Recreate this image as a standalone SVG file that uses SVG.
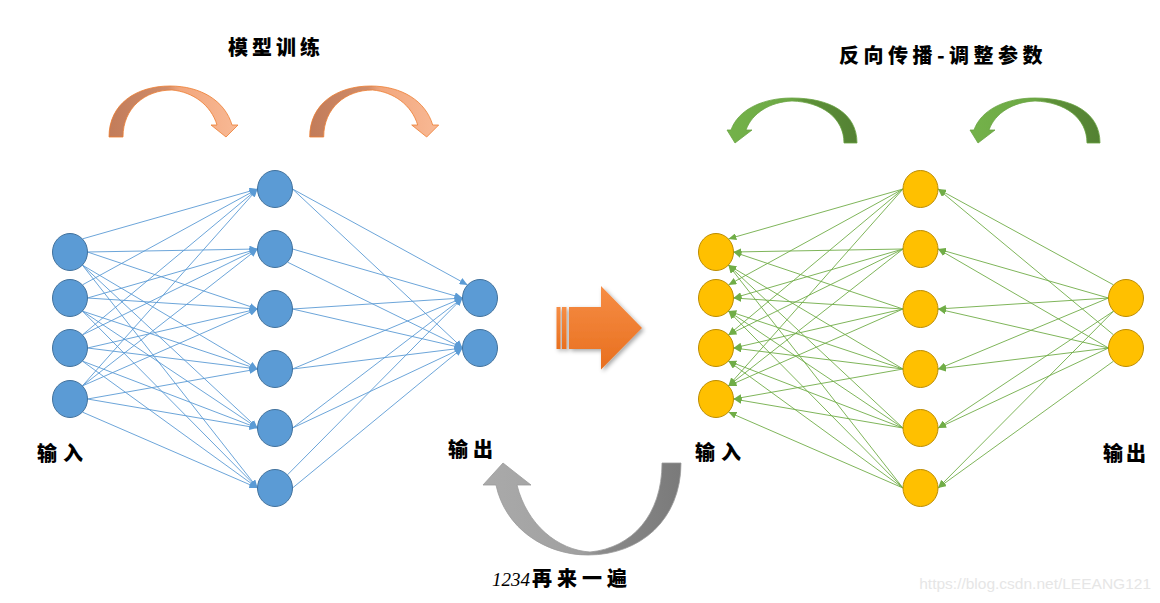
<svg xmlns="http://www.w3.org/2000/svg" xmlns:xlink="http://www.w3.org/1999/xlink" width="1160" height="603" viewBox="0 0 1160 603">
<style>
.lbl{font-family:"Noto Sans CJK SC","Noto Sans",sans-serif;font-weight:900;fill:#000;font-size:20px}
.bn{fill:#5B9BD5;stroke:#41719C;stroke-width:1}
.yn{fill:#FFC000;stroke:#BC8C00;stroke-width:1}
.be{stroke:#5B9BD5;stroke-width:0.9;fill:none;marker-end:url(#ab)}
.ge{stroke:#70AD47;stroke-width:0.9;fill:none;marker-end:url(#ag)}
.wm{font-family:"Liberation Sans",Arial,sans-serif;font-size:15.5px;fill:#E6E6E6}
</style>
<defs>
<marker id="ab" markerUnits="userSpaceOnUse" markerWidth="9" markerHeight="7" refX="8" refY="3.5" orient="auto"><path d="M0,0 L8,3.5 L0,7 z" fill="#5B9BD5"/></marker>
<marker id="ag" markerUnits="userSpaceOnUse" markerWidth="9" markerHeight="7" refX="8" refY="3.5" orient="auto"><path d="M0,0 L8,3.5 L0,7 z" fill="#70AD47"/></marker>
<linearGradient id="gOr" x1="0" y1="0" x2="1" y2="0">
<stop offset="0" stop-color="#C27C5A"/><stop offset="0.45" stop-color="#D08C69"/><stop offset="0.55" stop-color="#F2A67C"/><stop offset="1" stop-color="#F8B995"/>
</linearGradient>
<linearGradient id="gGr" x1="0" y1="0" x2="1" y2="0">
<stop offset="0" stop-color="#74B24A"/><stop offset="0.5" stop-color="#6CA844"/><stop offset="0.6" stop-color="#5E9139"/><stop offset="1" stop-color="#538133"/>
</linearGradient>
<linearGradient id="gGy" x1="0" y1="0" x2="1" y2="0">
<stop offset="0" stop-color="#AAAAAA"/><stop offset="0.5" stop-color="#A0A0A0"/><stop offset="0.6" stop-color="#8A8A8A"/><stop offset="1" stop-color="#7A7A7A"/>
</linearGradient>
<linearGradient id="gC" x1="0" y1="0" x2="0" y2="1">
<stop offset="0" stop-color="#F68D45"/><stop offset="1" stop-color="#E86F1E"/>
</linearGradient>
<filter id="sh" x="-20%" y="-20%" width="150%" height="150%"><feDropShadow dx="2" dy="2" stdDeviation="2" flood-color="#000" flood-opacity="0.35"/></filter>
<path id="orArrow" d="M109,137 C109,104 136,86 170,86 C201,86 225,101 232,125 L238,125 L226,137 L211,125 L217,125 C211,105 193,92 172,90 C145,90 123,108 123,137 Z" fill="url(#gOr)" stroke="#ED7D31" stroke-width="0.8"/>
<path id="grArrow" d="M857,143 C857,113 830,98 792,98 C762,98 738,110 731,130 L727,130 L735,143 L752,130 L746,130 C752,113 770,102 792,101 C822,102 844,118 844,143 Z" fill="url(#gGr)" stroke="#6AA342" stroke-width="0.8"/>
</defs>
<rect width="1160" height="603" fill="#fff"/>

<g id="titles">
<text class="lbl" x="276" y="55" text-anchor="middle" letter-spacing="4">模型训练</text>
<text class="lbl" x="943" y="62.5" text-anchor="middle" letter-spacing="4.5">反向传播-调整参数</text>
</g>

<g id="curved-arrows">
<use xlink:href="#orArrow"/>
<use xlink:href="#orArrow" transform="translate(200.7,0)"/>
<use xlink:href="#grArrow"/>
<use xlink:href="#grArrow" transform="translate(243,0)"/>
<path id="grayArrow" d="M681,463 C681,520 640,555 588,555 C545,555 505,528 496,485 L483,485 L503,463 L531,485 L517,485 C527,525 558,550 590,552 C632,548 662,515 662,463 Z" fill="url(#gGy)" stroke="#9A9A9A" stroke-width="0.8"/>
</g>

<g id="center-arrow" filter="url(#sh)">
<rect x="556.5" y="307" width="4" height="42" fill="url(#gC)"/>
<rect x="562" y="307" width="4.5" height="42" fill="url(#gC)"/>
<polygon points="569,307 601,307 601,286 642,328 601,369.5 601,349 569,349" fill="url(#gC)"/>
</g>

<g id="connectors">
<line class="be" x1="82.4" y1="238.9" x2="257.5" y2="189"/>
<line class="be" x1="87.5" y1="252" x2="257.5" y2="249"/>
<line class="be" x1="87.5" y1="252" x2="257.5" y2="309"/>
<line class="be" x1="82.4" y1="265.1" x2="257.5" y2="369"/>
<line class="be" x1="82.4" y1="265.1" x2="257.5" y2="428"/>
<line class="be" x1="82.4" y1="265.1" x2="257.5" y2="488"/>
<line class="be" x1="82.4" y1="284.9" x2="257.5" y2="189"/>
<line class="be" x1="87.5" y1="298" x2="257.5" y2="249"/>
<line class="be" x1="87.5" y1="298" x2="257.5" y2="309"/>
<line class="be" x1="82.4" y1="311.1" x2="257.5" y2="369"/>
<line class="be" x1="82.4" y1="311.1" x2="257.5" y2="428"/>
<line class="be" x1="82.4" y1="311.1" x2="257.5" y2="488"/>
<line class="be" x1="82.4" y1="334.9" x2="257.5" y2="189"/>
<line class="be" x1="82.4" y1="334.9" x2="257.5" y2="249"/>
<line class="be" x1="87.5" y1="348" x2="257.5" y2="309"/>
<line class="be" x1="87.5" y1="348" x2="257.5" y2="369"/>
<line class="be" x1="82.4" y1="361.1" x2="257.5" y2="428"/>
<line class="be" x1="82.4" y1="361.1" x2="257.5" y2="488"/>
<line class="be" x1="82.4" y1="385.9" x2="257.5" y2="189"/>
<line class="be" x1="82.4" y1="385.9" x2="257.5" y2="249"/>
<line class="be" x1="82.4" y1="385.9" x2="257.5" y2="309"/>
<line class="be" x1="87.5" y1="399" x2="257.5" y2="369"/>
<line class="be" x1="87.5" y1="399" x2="257.5" y2="428"/>
<line class="be" x1="82.4" y1="412.1" x2="257.5" y2="488"/>
<line class="be" x1="292.5" y1="189" x2="467.6" y2="284.9"/>
<line class="be" x1="292.5" y1="189" x2="462.5" y2="348"/>
<line class="be" x1="292.5" y1="249" x2="462.5" y2="298"/>
<line class="be" x1="287.4" y1="262.1" x2="462.5" y2="348"/>
<line class="be" x1="292.5" y1="309" x2="462.5" y2="298"/>
<line class="be" x1="292.5" y1="309" x2="462.5" y2="348"/>
<line class="be" x1="292.5" y1="369" x2="462.5" y2="298"/>
<line class="be" x1="292.5" y1="369" x2="462.5" y2="348"/>
<line class="be" x1="292.5" y1="428" x2="462.5" y2="298"/>
<line class="be" x1="292.5" y1="428" x2="462.5" y2="348"/>
<line class="be" x1="287.4" y1="474.9" x2="462.5" y2="298"/>
<line class="be" x1="292.5" y1="488" x2="462.5" y2="348"/>
<line class="ge" x1="903" y1="189" x2="728.4" y2="238.9"/>
<line class="ge" x1="903" y1="249" x2="733.5" y2="252"/>
<line class="ge" x1="903" y1="309" x2="733.5" y2="252"/>
<line class="ge" x1="903" y1="369" x2="728.4" y2="265.1"/>
<line class="ge" x1="903" y1="428" x2="728.4" y2="265.1"/>
<line class="ge" x1="903" y1="488" x2="728.4" y2="265.1"/>
<line class="ge" x1="903" y1="189" x2="728.4" y2="284.9"/>
<line class="ge" x1="903" y1="249" x2="733.5" y2="298"/>
<line class="ge" x1="903" y1="309" x2="733.5" y2="298"/>
<line class="ge" x1="903" y1="369" x2="728.4" y2="311.1"/>
<line class="ge" x1="903" y1="428" x2="728.4" y2="311.1"/>
<line class="ge" x1="903" y1="488" x2="728.4" y2="311.1"/>
<line class="ge" x1="903" y1="189" x2="728.4" y2="334.9"/>
<line class="ge" x1="903" y1="249" x2="728.4" y2="334.9"/>
<line class="ge" x1="903" y1="309" x2="733.5" y2="348"/>
<line class="ge" x1="903" y1="369" x2="733.5" y2="348"/>
<line class="ge" x1="903" y1="428" x2="728.4" y2="361.1"/>
<line class="ge" x1="903" y1="488" x2="728.4" y2="361.1"/>
<line class="ge" x1="903" y1="189" x2="728.4" y2="385.9"/>
<line class="ge" x1="903" y1="249" x2="728.4" y2="385.9"/>
<line class="ge" x1="903" y1="309" x2="728.4" y2="385.9"/>
<line class="ge" x1="903" y1="369" x2="733.5" y2="399"/>
<line class="ge" x1="903" y1="428" x2="733.5" y2="399"/>
<line class="ge" x1="903" y1="488" x2="728.4" y2="412.1"/>
<line class="ge" x1="1113.6" y1="284.9" x2="938" y2="189"/>
<line class="ge" x1="1108.5" y1="298" x2="938" y2="249"/>
<line class="ge" x1="1108.5" y1="298" x2="938" y2="309"/>
<line class="ge" x1="1108.5" y1="298" x2="938" y2="369"/>
<line class="ge" x1="1113.6" y1="311.1" x2="938" y2="428"/>
<line class="ge" x1="1113.6" y1="311.1" x2="938" y2="488"/>
<line class="ge" x1="1113.6" y1="334.9" x2="938" y2="189"/>
<line class="ge" x1="1108.5" y1="348" x2="938" y2="249"/>
<line class="ge" x1="1108.5" y1="348" x2="938" y2="309"/>
<line class="ge" x1="1108.5" y1="348" x2="938" y2="369"/>
<line class="ge" x1="1108.5" y1="348" x2="938" y2="428"/>
<line class="ge" x1="1113.6" y1="361.1" x2="938" y2="488"/>
</g>

<g id="left-input-1"><ellipse class="bn" cx="70" cy="252" rx="17.5" ry="18.5"/></g>
<g id="left-input-2"><ellipse class="bn" cx="70" cy="298" rx="17.5" ry="18.5"/></g>
<g id="left-input-3"><ellipse class="bn" cx="70" cy="348" rx="17.5" ry="18.5"/></g>
<g id="left-input-4"><ellipse class="bn" cx="70" cy="399" rx="17.5" ry="18.5"/></g>
<g id="left-hidden-1"><ellipse class="bn" cx="275" cy="189" rx="17.5" ry="18.5"/></g>
<g id="left-hidden-2"><ellipse class="bn" cx="275" cy="249" rx="17.5" ry="18.5"/></g>
<g id="left-hidden-3"><ellipse class="bn" cx="275" cy="309" rx="17.5" ry="18.5"/></g>
<g id="left-hidden-4"><ellipse class="bn" cx="275" cy="369" rx="17.5" ry="18.5"/></g>
<g id="left-hidden-5"><ellipse class="bn" cx="275" cy="428" rx="17.5" ry="18.5"/></g>
<g id="left-hidden-6"><ellipse class="bn" cx="275" cy="488" rx="17.5" ry="18.5"/></g>
<g id="left-output-1"><ellipse class="bn" cx="480" cy="298" rx="17.5" ry="18.5"/></g>
<g id="left-output-2"><ellipse class="bn" cx="480" cy="348" rx="17.5" ry="18.5"/></g>

<g id="right-input-1"><ellipse class="yn" cx="716" cy="252" rx="17.5" ry="18.5"/></g>
<g id="right-input-2"><ellipse class="yn" cx="716" cy="298" rx="17.5" ry="18.5"/></g>
<g id="right-input-3"><ellipse class="yn" cx="716" cy="348" rx="17.5" ry="18.5"/></g>
<g id="right-input-4"><ellipse class="yn" cx="716" cy="399" rx="17.5" ry="18.5"/></g>
<g id="right-hidden-1"><ellipse class="yn" cx="920.5" cy="189" rx="17.5" ry="18.5"/></g>
<g id="right-hidden-2"><ellipse class="yn" cx="920.5" cy="249" rx="17.5" ry="18.5"/></g>
<g id="right-hidden-3"><ellipse class="yn" cx="920.5" cy="309" rx="17.5" ry="18.5"/></g>
<g id="right-hidden-4"><ellipse class="yn" cx="920.5" cy="369" rx="17.5" ry="18.5"/></g>
<g id="right-hidden-5"><ellipse class="yn" cx="920.5" cy="428" rx="17.5" ry="18.5"/></g>
<g id="right-hidden-6"><ellipse class="yn" cx="920.5" cy="488" rx="17.5" ry="18.5"/></g>
<g id="right-output-1"><ellipse class="yn" cx="1126" cy="298" rx="17.5" ry="18.5"/></g>
<g id="right-output-2"><ellipse class="yn" cx="1126" cy="348" rx="17.5" ry="18.5"/></g>

<g id="labels">
<text class="lbl" x="37" y="461" letter-spacing="6">输入</text>
<text class="lbl" x="448" y="457" letter-spacing="5">输出</text>
<text class="lbl" x="695" y="460" letter-spacing="6">输入</text>
<text class="lbl" x="1103" y="461" letter-spacing="3">输出</text>
<text class="lbl" x="492" y="586"><tspan font-style="italic" font-weight="400" font-family="Liberation Serif, serif" font-size="19" letter-spacing="0">1234</tspan><tspan dx="2" letter-spacing="5">再来一遍</tspan></text>
</g>

<text class="wm" x="1151" y="589" text-anchor="end">https://blog.csdn.net/LEEANG121</text>
</svg>
